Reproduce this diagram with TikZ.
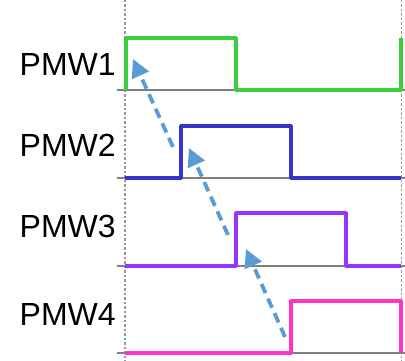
\documentclass[tikz,border=0pt]{standalone}
\usepackage{fontspec}
\setmainfont{Liberation Sans}
\usetikzlibrary{arrows.meta}
\definecolor{sigA}{HTML}{3CCF3C}
\definecolor{sigB}{HTML}{3535C8}
\definecolor{sigC}{HTML}{9933FF}
\definecolor{sigD}{HTML}{FF33CC}
\definecolor{lead}{HTML}{5B9BD5}
\definecolor{rail}{HTML}{808080}
\definecolor{mark}{HTML}{999999}
\tikzset{
  label/.style={anchor=base west, inner sep=0pt, font=\fontsize{32}{32}\selectfont},
  axis/.style={draw=rail, line width=1.5pt},
  guide/.style={draw=mark, line width=1.6pt, dash pattern=on 2.5pt off 2pt},
  wave/.style={line width=3.2pt, line join=round},
  phase/.style={draw=lead, line width=3.8pt, dash pattern=on 10pt off 6pt,
    -{Triangle[length=18pt,width=18pt]}},
}
\begin{document}
\begin{tikzpicture}[x=1pt,y=-1pt]
\useasboundingbox (0,0) rectangle (405,361);

% period markers
\draw[guide] (125,0) -- (125,361);
\draw[guide] (401.5,0) -- (401.5,361);

% zero lines
\foreach \yb in {90,178,266,353}
  \draw[axis] (117,\yb) -- (405,\yb);

% channel names
\node[label] (n1) at (19.5,76)  {PMW1};
\node[label] (n2) at (19.5,157) {PMW2};
\node[label] (n3) at (19.5,237) {PMW3};
\node[label] (n4) at (19.5,325) {PMW4};

% output waveforms
\draw[wave, sigA] (126,90) -- (126,38) -- (236,38) -- (236,90) -- (401,90) -- (401,38);
\draw[wave, sigB] (125,178) -- (181,178) -- (181,126) -- (291,126) -- (291,178) -- (401,178);
\draw[wave, sigC] (125,266) -- (236,266) -- (236,213) -- (346,213) -- (346,266) -- (401,266);
\draw[wave, sigD] (125,353) -- (291,353) -- (291,301) -- (401,301) -- (401,353);

% phase lead arrows
\coordinate (a0) at (285,337);
\coordinate (a1) at (246,249);
\coordinate (b0) at (228,235);
\coordinate (b1) at (189,148);
\coordinate (c0) at (173,147);
\coordinate (c1) at (133,59);
\draw[phase] (a0) -- (a1);
\draw[phase] (b0) -- (b1);
\draw[phase] (c0) -- (c1);
\end{tikzpicture}
\end{document}
